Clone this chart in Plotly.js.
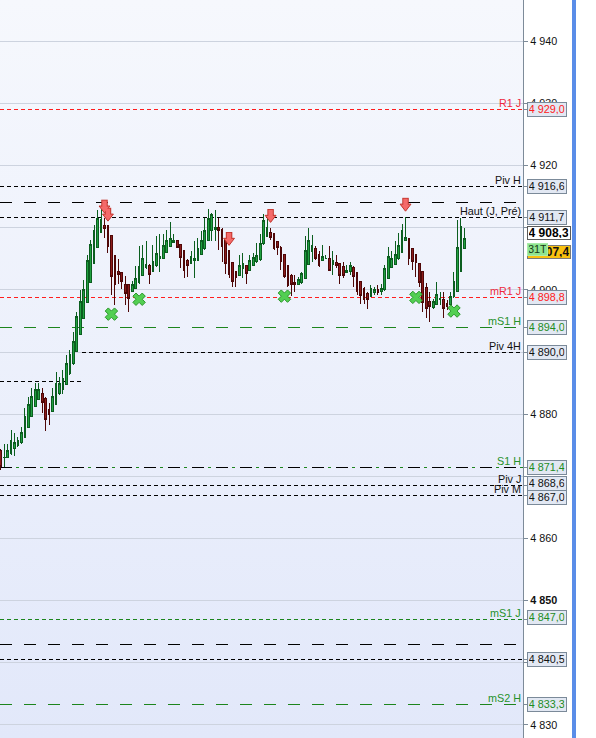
<!DOCTYPE html>
<html><head><meta charset="utf-8">
<script src="https://cdn.plot.ly/plotly-3.0.1.min.js"></script>
<style>html,body{margin:0;padding:0;background:#fff;}#chart{width:596px;height:738px;}
.shapelayer path{shape-rendering:crispEdges;}
.boxlayer path{shape-rendering:crispEdges;}
</style>
</head><body><div id="chart"></div>
<script>
// ---------- DATA ----------
const candleOpen = [4874.1,4873.0,4873.1,4873.6,4874.5,4874.9,4875.4,4876.2,4877.9,4879.7,
4881.2,4882.4,4883.3,4882.6,4880.8,4880.4,4881.6,4883.3,4883.9,4884.8,
4886.5,4888.2,4890.1,4892.9,4895.4,4897.9,4901.2,4904.3,4906.8,4909.2,
4910.4,4910.3,4908.7,4905.5,4903.0,4902.8,4900.9,4900.9,4899.7,4900.3,
4901.2,4902.4,4903.6,4904.0,4903.0,4903.9,4905.0,4905.1,4906.1,4907.0,
4907.7,4907.9,4907.3,4906.4,4904.8,4904.3,4904.8,4904.8,4905.7,4906.6,
4908.0,4909.6,4909.8,4910.0,4909.8,4908.1,4906.4,4904.4,4903.0,4902.4,
4903.5,4903.9,4903.2,4903.9,4904.5,4904.9,4907.5,4908.6,4909.3,4909.0,
4907.8,4906.9,4905.7,4903.9,4902.4,4901.2,4900.9,4901.2,4901.9,4904.1,
4906.2,4906.7,4905.7,4904.8,4905.0,4905.1,4904.1,4904.4,4904.3,4903.7,
4902.8,4903.0,4903.6,4902.8,4901.4,4900.3,4899.5,4898.9,4899.6,4900.0,
4899.7,4900.0,4901.9,4903.6,4904.1,4905.0,4906.1,4907.9,4908.2,4906.7,
4905.7,4904.3,4902.9,4900.4,4898.2,4897.1,4897.7,4898.4,4898.5,4897.8,
4897.6,4898.9,4899.8,4903.0,4906.7];
const candleHigh = [4874.4,4875.2,4875.2,4877.5,4877.0,4876.4,4878.0,4881.0,4882.8,4884.2,
4885.1,4885.0,4884.2,4882.7,4881.8,4884.2,4886.8,4886.0,4887.1,4889.5,
4890.3,4893.3,4896.5,4900.0,4901.6,4905.6,4908.0,4910.4,4912.9,4913.1,
4911.5,4910.4,4908.7,4905.5,4904.9,4902.9,4902.2,4901.0,4901.4,4903.9,
4907.1,4907.2,4907.8,4904.1,4907.2,4908.6,4909.0,4909.0,4909.6,4910.9,
4909.0,4908.0,4907.4,4906.5,4904.9,4906.3,4907.8,4908.3,4909.5,4911.5,
4913.1,4912.3,4912.9,4911.6,4909.9,4908.2,4906.5,4904.5,4903.1,4905.6,
4905.9,4904.0,4905.6,4905.9,4907.5,4909.0,4912.2,4911.8,4910.0,4909.1,
4907.9,4907.0,4905.8,4904.0,4902.5,4902.4,4902.0,4902.9,4908.6,4910.0,
4908.8,4907.1,4906.3,4907.2,4905.6,4907.0,4906.2,4905.6,4904.4,4904.5,
4904.0,4904.5,4903.9,4902.9,4901.5,4900.4,4899.7,4900.8,4900.4,4900.8,
4900.9,4904.0,4906.9,4906.2,4907.8,4909.1,4910.6,4911.8,4908.3,4906.8,
4905.8,4904.4,4903.0,4901.1,4899.7,4898.6,4901.2,4899.6,4899.7,4898.4,
4899.6,4902.9,4911.3,4911.5,4909.9];
const candleLow = [4871.0,4871.5,4873.0,4873.4,4873.3,4874.7,4875.2,4876.2,4877.9,4879.6,
4881.2,4882.3,4880.2,4877.3,4878.3,4880.3,4881.6,4883.1,4883.2,4884.7,
4886.3,4887.9,4890.1,4892.9,4895.4,4897.9,4901.2,4904.3,4906.7,4909.2,
4908.4,4905.9,4899.2,4897.6,4900.9,4900.1,4897.6,4896.5,4899.6,4900.2,
4901.0,4902.3,4903.4,4900.9,4902.9,4903.7,4902.9,4905.0,4906.1,4906.9,
4907.6,4906.7,4903.6,4901.9,4902.0,4904.2,4901.9,4904.7,4905.6,4906.4,
4908.0,4907.8,4907.8,4906.4,4904.5,4902.5,4901.9,4900.5,4900.4,4902.3,
4901.9,4900.9,4903.0,4903.8,4904.3,4904.7,4907.2,4908.5,4908.0,4906.4,
4905.6,4903.2,4901.9,4900.5,4899.1,4899.7,4900.8,4901.0,4901.8,4904.0,
4904.5,4904.8,4903.7,4904.8,4905.0,4903.0,4902.4,4903.6,4900.9,4901.9,
4902.7,4902.4,4900.4,4899.2,4897.7,4897.7,4896.9,4898.8,4899.2,4899.2,
4899.2,4899.9,4901.8,4903.5,4904.0,4904.8,4905.9,4907.8,4904.0,4903.2,
4902.1,4900.4,4896.4,4895.5,4894.9,4897.0,4897.6,4897.6,4895.5,4896.7,
4897.4,4898.7,4899.7,4902.9,4906.6];
const candleClose = [4871.6,4873.1,4874.1,4875.7,4875.4,4875.7,4877.0,4879.7,4881.5,4882.8,
4883.9,4883.9,4881.9,4879.2,4880.0,4882.8,4885.0,4885.0,4885.7,4888.2,
4889.6,4891.7,4895.7,4898.2,4900.1,4904.8,4907.3,4909.5,4911.5,4911.4,
4909.9,4907.0,4902.1,4900.8,4902.5,4901.4,4899.5,4898.7,4900.9,4901.9,
4903.7,4905.1,4904.1,4902.5,4904.5,4905.9,4905.3,4907.2,4907.9,4908.3,
4907.9,4906.9,4905.2,4903.2,4903.9,4905.3,4905.0,4906.7,4907.9,4909.5,
4911.5,4912.1,4910.1,4909.6,4907.0,4904.3,4902.5,4901.4,4902.0,4904.0,
4904.3,4902.7,4904.7,4905.2,4905.5,4907.5,4911.1,4910.1,4908.4,4906.7,
4906.8,4904.5,4902.2,4900.7,4900.9,4900.9,4901.6,4902.7,4906.4,4907.9,
4907.1,4905.1,4903.9,4905.3,4905.1,4903.2,4904.8,4903.9,4902.3,4902.4,
4903.2,4903.9,4902.1,4899.8,4899.1,4898.5,4898.5,4900.3,4900.0,4899.6,
4900.2,4903.5,4905.3,4905.0,4905.7,4907.2,4909.6,4908.4,4905.0,4904.5,
4904.4,4901.2,4897.9,4897.0,4897.3,4898.2,4899.2,4898.6,4897.0,4897.4,
4898.9,4901.4,4906.8,4910.2,4908.3];

// sell signals (red arrows): candle index and arrow tip price
const sellIdx = [30, 31, 66, 78, 117];
const sellTip = [4912.4, 4911.1, 4907.2, 4910.9, 4912.7];
// buy signals (green crosses): candle index and price
const buyIdx = [32, 40, 82, 120, 131];
const buyPrice = [4896.1, 4898.5, 4899.0, 4898.8, 4896.6];

// horizontal levels
const levelNames  = ['R1 J','Piv H','','Haut (J, Pré)','mR1 J','mS1 H','Piv 4H','','S1 H','Piv J','Piv M','mS1 J','','','mS2 H'];
const levelValues = [4929.0, 4916.6, 4914.1, 4911.7, 4898.8, 4894.0, 4890.0, 4885.3, 4871.4, 4868.6, 4867.0, 4847.0, 4842.9, 4840.5, 4833.3];
const levelFrom   = [null,null,null,null,null,null,23.5,null,null,null,null,null,null,null,null];
const levelTo     = [null,null,null,null,null,null,null,23.5,null,null,null,null,null,null,null];
const levelKinds  = ['red','black','blackLong','black','red','greenLong','black','black','s1','black','black','green','blackLong','black','greenLong'];
const levelHasBox = [true,true,false,true,true,true,true,false,true,true,true,true,false,true,true];
const levelBoxShift = [0,0,0,0,0,0,0,0,0,2,-2,2,0,0,0];

const askPrice = 4907.4;
const askTag = '31T';
const yTickVals = [4830,4840,4850,4860,4870,4880,4890,4900,4910,4920,4930,4940];
const hiddenTicks = [4840, 4870, 4890, 4910]; // fully covered by price boxes in the reference
const boldTick = 4850;

// ---------- LAYOUT CONSTANTS ----------
const FONT = 'Liberation Sans, Arial, sans-serif';
const W = 596, H = 738, PLOT_W = 523;
const X_RANGE = [-0.2, 150.95];
const Y_RANGE = [4827.9, 4946.65];
const PX_PER_PT = H / (Y_RANGE[1] - Y_RANGE[0]);
const pt = px => px / PX_PER_PT;
const px2paper = px => px / PLOT_W;

function fmt(v, dec) {
  const s = v.toFixed(dec).split('.');
  const ip = s[0].replace(/\B(?=(\d{3})+(?!\d))/g, ' ');
  return dec ? ip + ',' + s[1] : ip;
}

const RED_LINE = '#ff1e1e', RED_TXT = '#ee2a40';
const GREEN_LINE = '#1d851d', GREEN_TXT = '#26922a';
const kindStyle = {
  red:       {color: RED_LINE, dash: '4px,3px', txt: RED_TXT, box: '#ff2020'},
  black:     {color: '#000000', dash: '4px,3px', txt: '#111111', box: '#111111'},
  blackLong: {color: '#000000', dash: '12px,12px', txt: '#111111', box: '#111111'},
  green:     {color: GREEN_LINE, dash: '4px,3px', txt: GREEN_TXT, box: '#1e8c1e'},
  greenLong: {color: GREEN_LINE, dash: '12px,12px', txt: GREEN_TXT, box: '#1e8c1e'},
  s1:        {color: '#000000', dash: '12px,12px', txt: GREEN_TXT, box: '#1e8c1e'}
};

const xIdx = candleOpen.map((_, i) => i);

// ---------- TRACES ----------
const traces = [];
traces.push({
  type: 'candlestick', x: xIdx,
  open: candleOpen, high: candleHigh, low: candleLow, close: candleClose,
  increasing: {line: {color: '#0b5e1f', width: 1}, fillcolor: '#20a040'},
  decreasing: {line: {color: '#4e0707', width: 1}, fillcolor: '#8c1b1b'},
  whiskerwidth: 0, hoverinfo: 'skip', showlegend: false
});
const stemY = sellTip.map(v => v + pt(9.1));
const headY = sellTip.map(v => v + pt(4.5));
traces.push({type: 'scatter', mode: 'markers', x: sellIdx, y: stemY, hoverinfo: 'skip', showlegend: false,
  marker: {symbol: 'line-ns', size: 5.8, line: {color: '#c2342c', width: 6.5}}});
traces.push({type: 'scatter', mode: 'markers', x: sellIdx, y: headY, hoverinfo: 'skip', showlegend: false,
  marker: {symbol: 'triangle-down', size: 9.4, color: '#f46a6a', line: {color: '#c2342c', width: 1}}});
traces.push({type: 'scatter', mode: 'markers', x: sellIdx, y: stemY, hoverinfo: 'skip', showlegend: false,
  marker: {symbol: 'line-ns', size: 4.6, line: {color: '#f46a6a', width: 4.5}}});
traces.push({type: 'scatter', mode: 'markers', x: buyIdx, y: buyPrice, hoverinfo: 'skip', showlegend: false,
  marker: {symbol: 'x', size: 11, color: '#52cf52', line: {color: '#2a962a', width: 1}}});

// ---------- SHAPES ----------
const shapes = [];
levelValues.forEach((v, i) => {
  const st = kindStyle[levelKinds[i]];
  const x0 = levelFrom[i] === null ? X_RANGE[0] : levelFrom[i];
  const x1 = levelTo[i] === null ? X_RANGE[1] : levelTo[i];
  shapes.push({type: 'line', xref: 'x', yref: 'y', x0: x0, x1: x1, y0: v, y1: v, layer: 'between',
    line: {color: st.color, width: 1, dash: st.dash}});
  if (levelKinds[i] === 's1') {
    shapes.push({type: 'line', xref: 'x', yref: 'y', x0: x0, x1: x1, y0: v, y1: v, layer: 'between',
      line: {color: GREEN_LINE, width: 1, dash: '0px,16px,3px,5px'}});
  }
  if (levelHasBox[i]) {
    shapes.push({type: 'line', xref: 'paper', yref: 'y', x0: 1, x1: px2paper(527.5), y0: v, y1: v, layer: 'above',
      line: {color: '#7d8b99', width: 1}});
  }
});
// blue frame bar on the right
shapes.push({type: 'rect', xref: 'paper', yref: 'paper', x0: px2paper(571.7), x1: px2paper(575.7), y0: 0, y1: 1,
  fillcolor: '#5a8de8', line: {width: 0}, layer: 'above'});

// ---------- ANNOTATIONS ----------
const annotations = [];
levelValues.forEach((v, i) => {
  const st = kindStyle[levelKinds[i]];
  if (levelNames[i]) {
    annotations.push({xref: 'paper', yref: 'y', x: px2paper(521.5), y: v, xanchor: 'right', yanchor: 'bottom',
      text: levelNames[i], showarrow: false, borderpad: 0, yshift: -0.5,
      font: {family: FONT, size: 10.8, color: st.txt}});
  }
});
levelValues.forEach((v, i) => {
  if (!levelHasBox[i]) return;
  const st = kindStyle[levelKinds[i]];
  annotations.push({xref: 'paper', yref: 'y', x: px2paper(527.3), y: v, xanchor: 'left', yanchor: 'middle',
    yshift: levelBoxShift[i], text: fmt(v, 1), showarrow: false, width: 35.5, height: 10.5, align: 'center',
    bgcolor: '#e2e8f3', bordercolor: '#7b8a99', borderwidth: 1, borderpad: 1,
    font: {family: FONT, size: 10.8, color: st.box}});
});
// ask/bid style tag
annotations.push({xref: 'paper', yref: 'y', x: px2paper(527.3), y: askPrice, xanchor: 'left', yanchor: 'middle',
  yshift: -8, text: '<b>' + fmt(askPrice, 1) + '</b>', showarrow: false, width: 40.4, height: 10.3, align: 'right',
  bgcolor: '#f9c10f', bordercolor: '#7a7a7a', borderwidth: 1, borderpad: 1,
  font: {family: FONT, size: 12, color: '#111'}});
annotations.push({xref: 'paper', yref: 'y', x: px2paper(527.3), y: askPrice, xanchor: 'left', yanchor: 'middle',
  yshift: -5.8, text: askTag, showarrow: false, width: 17, height: 8.7, align: 'center',
  bgcolor: '#8fe48f', bordercolor: '#a8eca8', borderwidth: 1, borderpad: 1,
  font: {family: FONT, size: 11, color: '#173a17'}});
// last price
const lastClose = candleClose[candleClose.length - 1];
annotations.push({xref: 'paper', yref: 'y', x: px2paper(527.3), y: lastClose, xanchor: 'left', yanchor: 'middle',
  yshift: 5, text: '<b>' + fmt(lastClose, 1) + '</b>', showarrow: false, width: 39.5, height: 10, align: 'center',
  bgcolor: '#ffffff', bordercolor: '#5a5a5a', borderwidth: 1, borderpad: 1,
  font: {family: FONT, size: 12, color: '#000'}});

// ---------- BACKGROUND GRADIENT ----------
const svgBg = "<svg xmlns='http://www.w3.org/2000/svg' width='10' height='100' preserveAspectRatio='none'>" +
  "<defs><linearGradient id='g' x1='0' y1='0' x2='0' y2='1'>" +
  "<stop offset='0' stop-color='#f6f8fd'/><stop offset='1' stop-color='#e2e8fa'/></linearGradient></defs>" +
  "<rect width='10' height='100' fill='url(#g)'/></svg>";

const layout = {
  width: W, height: H,
  margin: {l: 0, r: W - PLOT_W, t: 0, b: 0, pad: 0},
  paper_bgcolor: '#ffffff', plot_bgcolor: '#eef1fb',
  showlegend: false, dragmode: false,
  font: {family: FONT, size: 10.5, color: '#111'},
  images: [{source: 'data:image/svg+xml;charset=utf-8,' + encodeURIComponent(svgBg),
    xref: 'paper', yref: 'paper', x: 0, y: 1, sizex: 1, sizey: 1, xanchor: 'left', yanchor: 'top',
    sizing: 'stretch', layer: 'below'}],
  xaxis: {range: X_RANGE, visible: false, fixedrange: true, rangeslider: {visible: false}},
  yaxis: {range: Y_RANGE, side: 'right', fixedrange: true, showgrid: true, gridcolor: '#cdd3df', gridwidth: 1,
    zeroline: false, showline: true, linecolor: '#7d8b99', linewidth: 1,
    ticks: 'outside', ticklen: 4, tickwidth: 1, tickcolor: '#7d8b99',
    tickvals: yTickVals,
    ticktext: yTickVals.map(v => hiddenTicks.includes(v) ? '' : (v === boldTick ? '<b>' + fmt(v, 0) + '</b>' : fmt(v, 0))),
    tickfont: {family: FONT, size: 10.8, color: '#111'}, automargin: false},
  shapes: shapes, annotations: annotations
};

Plotly.newPlot('chart', traces, layout, {displayModeBar: false, staticPlot: true});
</script></body></html>
